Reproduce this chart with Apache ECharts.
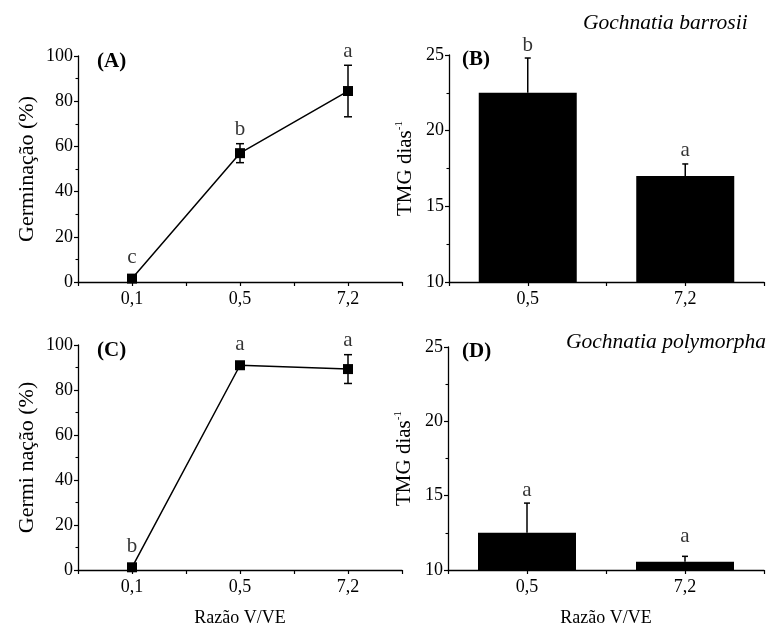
<!DOCTYPE html>
<html>
<head>
<meta charset="utf-8">
<script src="https://cdn.jsdelivr.net/npm/echarts@6/dist/echarts.min.js"></script>
<style>html,body{margin:0;padding:0;background:#fff;}#c{width:767px;height:628px;}</style>
</head>
<body>
<div id="c"></div>
<script>
// ---- data ----
const catsLine = ['0,1', '0,5', '7,2'];
const catsBar = ['0,5', '7,2'];
const germA = [1.5, 57, 84.5];
const germAErr = [0, 4.2, 11.4];
const lettersA = ['c', 'b', 'a'];
const tmgB = [22.5, 17];
const tmgBErr = [2.3, 0.8];
const lettersB = ['b', 'a'];
const germC = [1.2, 91, 89.3];
const germCErr = [0, 0, 6.4];
const lettersC = ['b', 'a', 'a'];
const tmgD = [12.5, 10.55];
const tmgDErr = [2.0, 0.37];
const lettersD = ['a', 'a'];
const yTicksGerm = [0, 20, 40, 60, 80, 100];
const yTicksTmg = [10, 15, 20, 25];

const FONT = '"Liberation Serif", "Times New Roman", serif';
const chart = echarts.init(document.getElementById('c'), null, {renderer: 'canvas'});

const grids = [
  {left: 78, top: 56, width: 324, height: 226},
  {left: 449, top: 55, width: 324, height: 227},
  {left: 78, top: 345, width: 324, height: 227},
  {left: 448, top: 347, width: 324, height: 226}
];

function xAxis(gi, cats, showName) {
  return {
    type: 'value', gridIndex: gi, min: 0.5, max: cats.length + 0.5, interval: 0.5,
    axisLine: {show: true, onZero: false, lineStyle: {color: '#000', width: 1.3}},
    axisTick: {show: true, length: 4, lineStyle: {color: '#000', width: 1.2}},
    splitLine: {show: false},
    axisLabel: {
      color: '#000', fontFamily: FONT, fontSize: 18, margin: 8,
      showMinLabel: true, showMaxLabel: true,
      formatter: function (v) {
        const i = Math.round(v) - 1;
        return (Math.abs(v - Math.round(v)) < 1e-6 && i >= 0 && i < cats.length) ? cats[i] : '';
      }
    },
    name: showName ? 'Razão V/VE' : '', nameLocation: 'middle', nameGap: 39,
    nameTextStyle: {color: '#000', fontFamily: FONT, fontSize: 18}
  };
}
function yAxis(gi, ticks, name, rich, pad) {
  const iv = ticks[1] - ticks[0];
  return {
    type: 'value', gridIndex: gi, min: ticks[0], max: ticks[ticks.length - 1], interval: iv,
    axisLine: {show: true, onZero: false, lineStyle: {color: '#000', width: 1.3}},
    axisTick: {show: true, length: 4, lineStyle: {color: '#000', width: 1.2}},
    minorTick: {show: true, splitNumber: 2, length: 2.5, lineStyle: {color: '#000', width: 1.1}},
    splitLine: {show: false},
    axisLabel: {color: '#000', fontFamily: FONT, fontSize: 18, margin: 5},
    name: name, nameLocation: 'middle', nameGap: rich ? 32 : 40,
    nameTextStyle: {color: '#000', fontFamily: FONT, fontSize: rich ? 21 : 22, rich: rich || undefined, padding: pad || 0}
  };
}

function errSeries(gi, vals, errs, twoSided, cap) {
  return {
    type: 'custom', xAxisIndex: gi, yAxisIndex: gi, z: 5, silent: true,
    data: vals.map((v, i) => [i + 1, twoSided ? v - errs[i] : v, v + errs[i]]),
    renderItem: function (params, api) {
      const x = api.value(0), lo = api.value(1), hi = api.value(2);
      if (hi - lo < 1e-9) return null;
      const p1 = api.coord([x, lo]), p2 = api.coord([x, hi]);
      const st = {stroke: '#000', lineWidth: 1.5};
      const ch = [
        {type: 'line', shape: {x1: p1[0], y1: p1[1], x2: p2[0], y2: p2[1]}, style: st},
        {type: 'line', shape: {x1: p2[0] - cap, y1: p2[1], x2: p2[0] + cap, y2: p2[1]}, style: st}
      ];
      if (twoSided) ch.push({type: 'line', shape: {x1: p1[0] - cap, y1: p1[1], x2: p1[0] + cap, y2: p1[1]}, style: st});
      return {type: 'group', children: ch};
    }
  };
}
function letterSeries(gi, vals, errs, letters, baseDist) {
  return {
    type: 'scatter', xAxisIndex: gi, yAxisIndex: gi, symbolSize: 1, z: 6, silent: true,
    itemStyle: {color: 'rgba(0,0,0,0)'},
    data: vals.map((v, i) => ({
      value: [i + 1, v + errs[i]],
      label: {distance: errs[i] > 0.5 ? baseDist : baseDist + 7}
    })),
    label: {
      show: true, position: 'top', color: '#000', fontFamily: FONT, fontSize: 21,
      formatter: p => letters[p.dataIndex]
    }
  };
}
function lineSeries(gi, vals) {
  return {
    type: 'line', xAxisIndex: gi, yAxisIndex: gi, z: 4,
    data: vals.map((v, i) => [i + 1, v]),
    symbol: 'rect', symbolSize: 10, showSymbol: true,
    lineStyle: {color: '#000', width: 1.5}, itemStyle: {color: '#000'}
  };
}
function barSeries(gi, vals) {
  return {
    type: 'bar', xAxisIndex: gi, yAxisIndex: gi, z: 3, barWidth: 98,
    data: vals.map((v, i) => [i + 1, v]),
    itemStyle: {color: '#000'}
  };
}

const tmgRich = {sup: {fontSize: 11, fontFamily: FONT, color: '#000', verticalAlign: 'top', padding: [0, 0, 12, 0]}};

const option = {
  backgroundColor: '#fff',
  animation: false,
  grid: grids,
  xAxis: [xAxis(0, catsLine, false), xAxis(1, catsBar, false), xAxis(2, catsLine, true), xAxis(3, catsBar, true)],
  yAxis: [
    yAxis(0, yTicksGerm, 'Germinação (%)'),
    yAxis(1, yTicksTmg, 'TMG dias{sup|-1}', tmgRich),
    yAxis(2, yTicksGerm, 'Germi nação (%)', null, [0, 0, 0, 0]),
    yAxis(3, yTicksTmg, 'TMG dias{sup|-1}', tmgRich)
  ],
  series: [
    lineSeries(0, germA), errSeries(0, germA, germAErr, true, 4), letterSeries(0, germA, germAErr, lettersA, 3),
    barSeries(1, tmgB), errSeries(1, tmgB, tmgBErr, false, 3), letterSeries(1, tmgB, tmgBErr, lettersB, 2),
    lineSeries(2, germC), errSeries(2, germC, germCErr, true, 4), letterSeries(2, germC, germCErr, lettersC, 3),
    barSeries(3, tmgD), errSeries(3, tmgD, tmgDErr, false, 3), letterSeries(3, tmgD, tmgDErr, lettersD, 2)
  ],
  graphic: [
    {type: 'text', left: 97, top: 51, style: {text: '(A)', font: 'bold 21px ' + FONT, fill: '#000'}},
    {type: 'text', left: 462, top: 49, style: {text: '(B)', font: 'bold 21px ' + FONT, fill: '#000'}},
    {type: 'text', left: 97, top: 340, style: {text: '(C)', font: 'bold 21px ' + FONT, fill: '#000'}},
    {type: 'text', left: 462, top: 341, style: {text: '(D)', font: 'bold 21px ' + FONT, fill: '#000'}},
    {type: 'text', left: 583, top: 12, style: {text: 'Gochnatia barrosii', font: 'italic 21.5px ' + FONT, fill: '#000'}},
    {type: 'text', left: 566, top: 331, style: {text: 'Gochnatia polymorpha', font: 'italic 21.5px ' + FONT, fill: '#000'}}
  ]
};
chart.setOption(option);
</script>
</body>
</html>
